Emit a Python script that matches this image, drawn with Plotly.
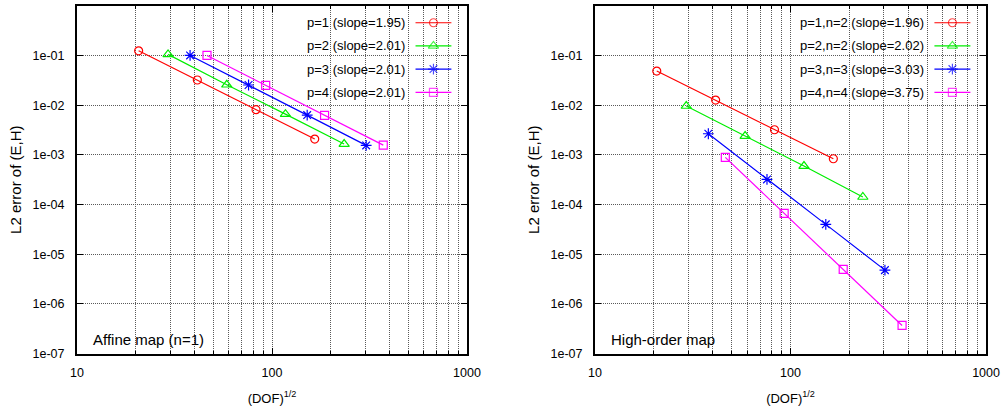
import plotly.graph_objects as go

# sqrt(DOF) for each polynomial order (four refinement levels)
dof_p1 = [20.7, 41.4, 82.8, 165.6]
dof_p2 = [29.3, 58.6, 117.2, 234.4]
dof_p3 = [38.0, 75.8, 151.5, 304.0]
dof_p4 = [46.4, 92.8, 186.0, 372.0]

# L2 error of (E,H) with the affine (n=1) geometry map
err_affine_p1 = [0.124, 0.032, 0.0081, 0.00208]
err_affine_p2 = [0.105, 0.0257, 0.0066, 0.00165]
err_affine_p3 = [0.100, 0.0254, 0.0063, 0.00155]
err_affine_p4 = [0.100, 0.0249, 0.0062, 0.00157]

# L2 error of (E,H) with the high-order geometry map
err_high_p1 = [0.0485, 0.01265, 0.0032, 0.000835]
err_high_p2 = [0.0096, 0.00239, 0.000595, 0.000142]
err_high_p3 = [0.00266, 0.000321, 4.0e-5, 4.8e-6]
err_high_p4 = [0.00089, 6.65e-5, 4.97e-6, 3.7e-7]

names_affine = ["p=1 (slope=1.95)", "p=2 (slope=2.01)",
                "p=3 (slope=2.01)", "p=4 (slope=2.01)"]
names_high = ["p=1,n=2 (slope=1.96)", "p=2,n=2 (slope=2.02)",
              "p=3,n=3 (slope=3.03)", "p=4,n=4 (slope=3.75)"]

y_tick_vals = [1, 1e-1, 1e-2, 1e-3, 1e-4, 1e-5, 1e-6, 1e-7]
y_tick_text = ["1e+0", "1e-01", "1e-02", "1e-03", "1e-04", "1e-05", "1e-06", "1e-07"]
x_tick_vals = [10, 100, 1000]
x_tick_text = ["10", "100", "1000"]
x_minor_vals = [20, 30, 40, 50, 60, 70, 80, 90, 200, 300, 400, 500, 600, 700, 800, 900]

colors = ["#ff0000", "#00ee00", "#0000ff", "#ff00ff"]
symbols = ["circle-open", "triangle-up-open", "asterisk-open", "square-open"]
sizes = [8, 9, 9, 8]

FONT = "Liberation Sans, Arial, sans-serif"

fig = go.Figure()

dofs = [dof_p1, dof_p2, dof_p3, dof_p4]
panels = [
    ("x", "y", "x3", "y3", [err_affine_p1, err_affine_p2, err_affine_p3, err_affine_p4], names_affine),
    ("x2", "y2", "x4", "y4", [err_high_p1, err_high_p2, err_high_p3, err_high_p4], names_high),
]

# key sample placement in axis-domain fractions
row_y = [0.951, 0.8845, 0.8178, 0.7511]
sample_x0, sample_x1 = 0.868, 0.960

annotations = []
shapes = []
for xa, ya, xo, yo, errs, names in panels:
    for i in range(4):
        fig.add_trace(go.Scatter(
            x=dofs[i], y=errs[i], mode="lines+markers", xaxis=xa, yaxis=ya,
            line=dict(color=colors[i], width=1.2),
            marker=dict(symbol=symbols[i], size=sizes[i], color=colors[i],
                        line=dict(width=1.2, color=colors[i])),
            showlegend=False, name=names[i]))
        # key sample: line with marker in its middle
        fig.add_trace(go.Scatter(
            x=[sample_x0, (sample_x0 + sample_x1) / 2, sample_x1],
            y=[row_y[i]] * 3, mode="lines+markers", xaxis=xo, yaxis=yo,
            line=dict(color=colors[i], width=1.2),
            marker=dict(symbol=symbols[i], size=[0, sizes[i], 0], color=colors[i],
                        line=dict(width=1.2, color=colors[i])),
            showlegend=False, hoverinfo="skip"))
        annotations.append(dict(
            text=names[i], xref=xa + " domain", yref=ya + " domain",
            x=0.846, y=row_y[i], xanchor="right", yanchor="middle",
            showarrow=False, font=dict(family=FONT, size=13, color="#000")))
    # opaque key box hiding the grid
    shapes.append(dict(
        type="rect", xref=xa + " domain", yref=ya + " domain",
        x0=0.523 if xa == "x" else 0.4425, x1=0.9897, y0=0.7204, y1=0.982,
        fillcolor="white", line=dict(width=0), layer="below"))

annotations.append(dict(text="Affine map (n=1)", xref="x domain", yref="y domain",
                        x=0.036, y=0.0394, xanchor="left", yanchor="middle",
                        showarrow=False, font=dict(family=FONT, size=15, color="#000")))
annotations.append(dict(text="High-order map", xref="x2 domain", yref="y2 domain",
                        x=0.037, y=0.0394, xanchor="left", yanchor="middle",
                        showarrow=False, font=dict(family=FONT, size=15, color="#000")))

tick_font = dict(family=FONT, size=12.5, color="#000")
grid_kw = dict(showgrid=True, gridcolor="#5a5a5a", gridwidth=1, griddash="1px,1px")


def x_axis(domain, anchor):
    return dict(type="log", range=[1, 3], domain=domain, anchor=anchor,
                tickmode="array", tickvals=x_tick_vals, ticktext=x_tick_text,
                ticks="inside", ticklen=6, tickwidth=1, tickcolor="#000",
                showline=True, linecolor="#000", linewidth=2, mirror="ticks",
                zeroline=False, tickfont=tick_font, ticklabelstandoff=6,
                title=dict(text="(DOF)<sup>1/2</sup>",
                           font=dict(family=FONT, size=13, color="#000"), standoff=15),
                minor=dict(tickmode="array", tickvals=x_minor_vals, ticks="inside",
                           ticklen=3, tickcolor="#000", **grid_kw),
                **grid_kw)


def y_axis(anchor):
    return dict(type="log", range=[-7, 0], domain=[0.1394, 0.9861], anchor=anchor,
                tickmode="array", tickvals=y_tick_vals, ticktext=y_tick_text,
                ticks="inside", ticklen=6, tickwidth=1, tickcolor="#000",
                showline=True, linecolor="#000", linewidth=2, mirror="ticks",
                zeroline=False, tickfont=tick_font, ticklabelstandoff=8,
                title=dict(text="L2 error of (E,H)",
                           font=dict(family=FONT, size=15, color="#000"), standoff=7),
                **grid_kw)


overlay = dict(range=[0, 1], visible=False, showgrid=False, zeroline=False,
               showticklabels=False, fixedrange=True)

fig.update_layout(
    width=1003, height=411,
    margin=dict(l=0, r=0, t=0, b=0, autoexpand=False),
    paper_bgcolor="white", plot_bgcolor="white",
    xaxis=x_axis([0.0768, 0.4656], "y"),
    yaxis=y_axis("x"),
    xaxis2=x_axis([0.5932, 0.9831], "y2"),
    yaxis2=y_axis("x2"),
    xaxis3=dict(overlaying="x", anchor="y3", **overlay),
    yaxis3=dict(overlaying="y", anchor="x3", **overlay),
    xaxis4=dict(overlaying="x2", anchor="y4", **overlay),
    yaxis4=dict(overlaying="y2", anchor="x4", **overlay),
    annotations=annotations,
    shapes=shapes,
    showlegend=False,
)

fig.write_html("out.html")
